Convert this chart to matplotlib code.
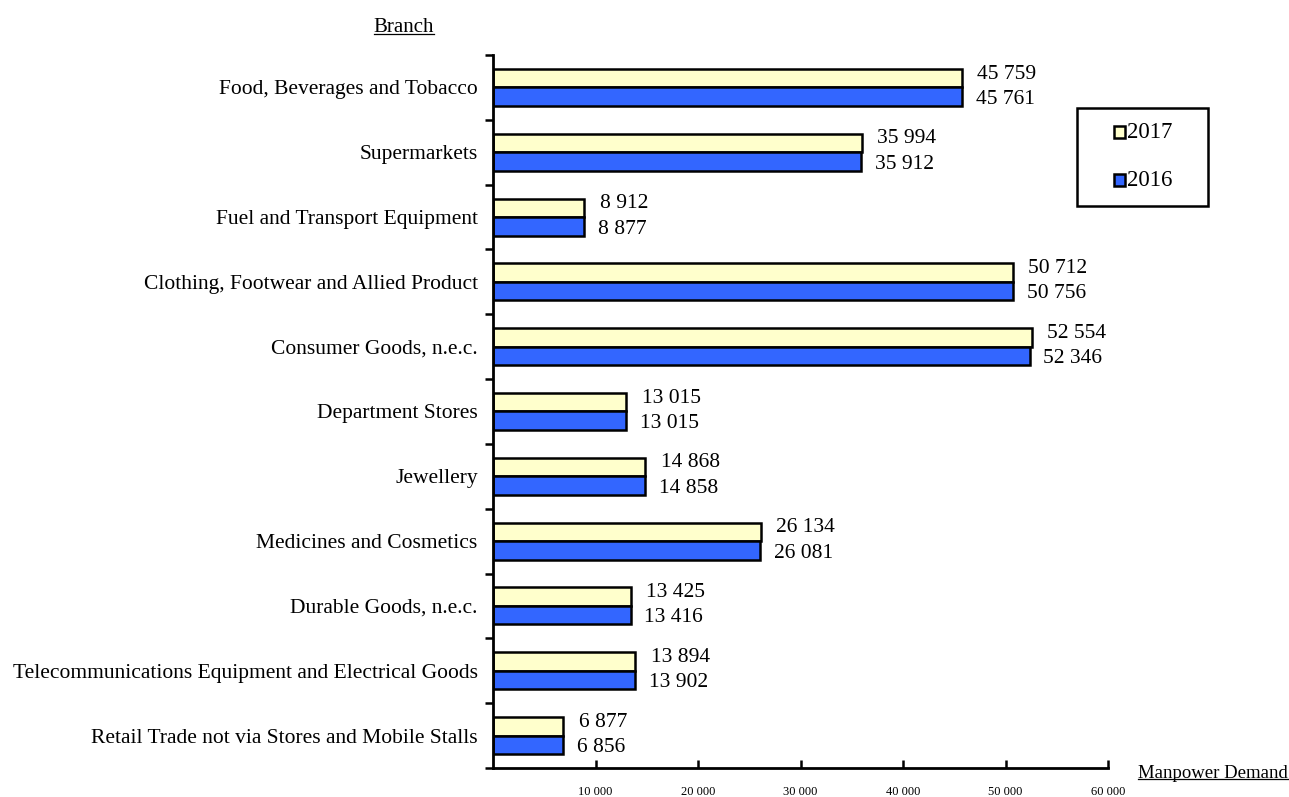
import matplotlib
matplotlib.use("Agg")
import matplotlib.pyplot as plt
import numpy as np
from matplotlib.lines import Line2D
from matplotlib.patches import Rectangle

plt.rcParams['font.family'] = ['Liberation Serif', 'DejaVu Serif']

branches = [
    "Food, Beverages and Tobacco",
    "Supermarkets",
    "Fuel and Transport Equipment",
    "Clothing, Footwear and Allied Product",
    "Consumer Goods, n.e.c.",
    "Department Stores",
    "Jewellery",
    "Medicines and Cosmetics",
    "Durable Goods, n.e.c.",
    "Telecommunications Equipment and Electrical Goods",
    "Retail Trade not via Stores and Mobile Stalls",
]
demand_2017 = [45759, 35994, 8912, 50712, 52554, 13015, 14868, 26134, 13425, 13894, 6877]
demand_2016 = [45761, 35912, 8877, 50756, 52346, 13015, 14858, 26081, 13416, 13902, 6856]
x_ticks = [10000, 20000, 30000, 40000, 50000, 60000]

YELLOW = "#FFFFCC"
BLUE = "#3366FF"


def fmt(v):
    return f"{v:,}".replace(",", " ")


fig = plt.figure(figsize=(12.89, 7.97), dpi=100)
ax = fig.add_axes([493 / 1289, 1 - 768 / 797, (1108 - 493) / 1289, (768 - 55) / 797])

n = len(branches)
y = np.arange(n)
h = 0.285

ax.barh(y - h / 2, demand_2017, height=h, color=YELLOW, edgecolor="black", linewidth=1.8, label="2017")
ax.barh(y + h / 2, demand_2016, height=h, color=BLUE, edgecolor="black", linewidth=1.8, label="2016")

for i in range(n):
    ax.annotate(fmt(demand_2017[i]), (demand_2017[i], y[i] - h / 2), xytext=(11, 3),
                textcoords="offset points", ha="left", va="center", fontsize=15.5)
    ax.annotate(fmt(demand_2016[i]), (demand_2016[i], y[i] + h / 2), xytext=(10, -2),
                textcoords="offset points", ha="left", va="center", fontsize=15.5)

ax.set_xlim(0, 60000)
ax.set_ylim(n - 0.5, -0.5)

# y axis: category labels at centres, tick marks at boundaries
ax.set_yticks(y)
ax.set_yticklabels(branches, fontsize=15.5)
ax.tick_params(axis="y", which="major", length=0, pad=11)
ax.set_yticks(np.arange(-0.5, n, 1.0), minor=True)
ax.tick_params(axis="y", which="minor", length=6, width=1.8, direction="out")

ax.set_xticks(x_ticks)
ax.set_xticklabels([fmt(v) for v in x_ticks], fontsize=9)
ax.tick_params(axis="x", direction="in", length=6, width=1.8, pad=13)

for s in ["top", "right"]:
    ax.spines[s].set_visible(False)
ax.spines["left"].set_linewidth(2)
ax.spines["bottom"].set_linewidth(2)

# legend box
box = Rectangle((1077 / 1289, 1 - 206 / 797), 131 / 1289, 98 / 797,
                transform=fig.transFigure, fill=False, edgecolor="black", linewidth=1.8)
fig.add_artist(box)
for yy, col, lab in [(132, YELLOW, "2017"), (180, BLUE, "2016")]:
    fig.add_artist(Rectangle((1114 / 1289, 1 - (yy + 6) / 797), 11 / 1289, 12 / 797,
                             transform=fig.transFigure, facecolor=col, edgecolor="black", linewidth=1.8))
    fig.text(1127 / 1289, 1 - (yy + 1) / 797, lab, fontsize=16.5, va="center", ha="left")

t1 = fig.text(404 / 1289, 1 - 27 / 797, "Branch", fontsize=15, ha="center", va="center")
t2 = fig.text(1213 / 1289, 1 - 773 / 797, "Manpower Demand", fontsize=13.5, ha="center", va="center")

# underline the two axis titles
fig.canvas.draw()
r = fig.canvas.get_renderer()
for t in (t1, t2):
    bb = t.get_window_extent(r).transformed(fig.transFigure.inverted())
    fig.add_artist(Line2D([bb.x0, bb.x1], [bb.y0 + 0.003, bb.y0 + 0.003],
                          transform=fig.transFigure, color="black", linewidth=0.9))

fig.savefig("out.png", dpi=100)
